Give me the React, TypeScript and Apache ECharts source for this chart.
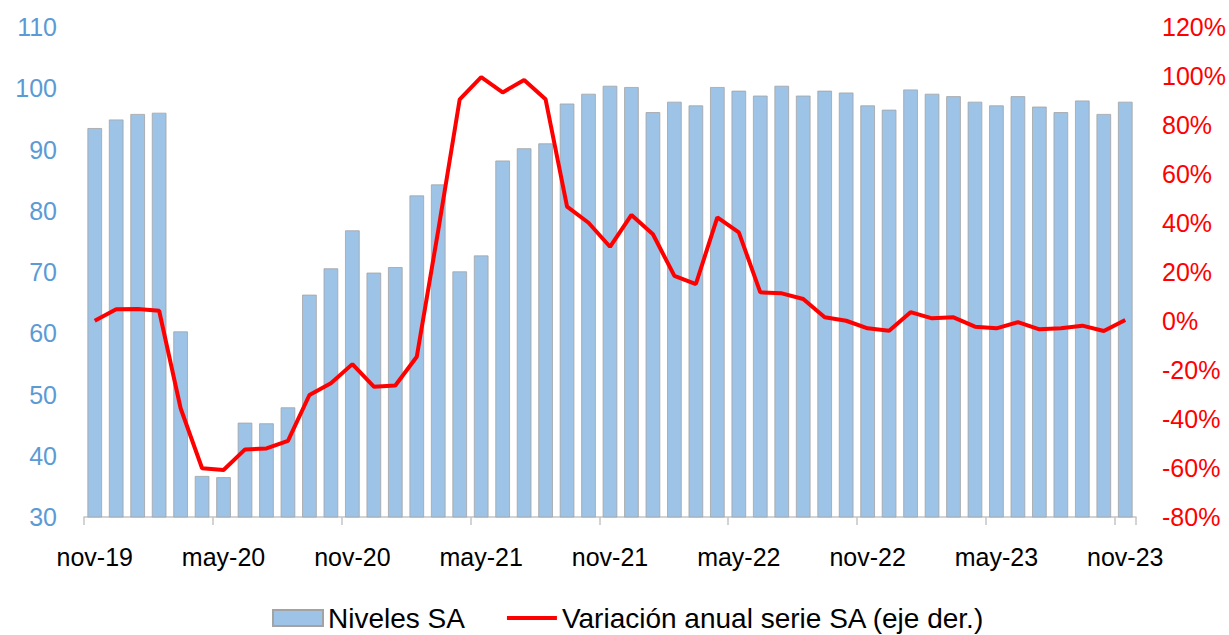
import React, { useEffect, useRef } from "react";
import * as echarts from "echarts";

const months = [
  "nov-19", "dic-19", "ene-20", "feb-20", "mar-20", "abr-20", "may-20", "jun-20", "jul-20", "ago-20", "sep-20", "oct-20",
  "nov-20", "dic-20", "ene-21", "feb-21", "mar-21", "abr-21", "may-21", "jun-21", "jul-21", "ago-21", "sep-21", "oct-21",
  "nov-21", "dic-21", "ene-22", "feb-22", "mar-22", "abr-22", "may-22", "jun-22", "jul-22", "ago-22", "sep-22", "oct-22",
  "nov-22", "dic-22", "ene-23", "feb-23", "mar-23", "abr-23", "may-23", "jun-23", "jul-23", "ago-23", "sep-23", "oct-23",
  "nov-23",
];

const nivelesSA = [
  93.5, 94.9, 95.8, 96.0, 60.3, 36.7, 36.5, 45.4, 45.3, 47.9,
  66.3, 70.6, 76.8, 69.9, 70.8, 82.5, 84.3, 70.1, 72.7, 88.2,
  90.2, 91.0, 97.5, 99.1, 100.4, 100.2, 96.1, 97.8, 97.2, 100.2,
  99.6, 98.8, 100.4, 98.8, 99.6, 99.3, 97.2, 96.5, 99.8, 99.1,
  98.7, 97.8, 97.2, 98.7, 97.0, 96.1, 98.0, 95.8, 97.8,
];

const variacionAnual = [
  0.1, 4.8, 4.9, 4.2, -35.6, -60.1, -60.8, -52.4, -52.0, -48.9,
  -30.2, -25.4, -17.6, -26.8, -26.3, -14.6, 37, 90.5, 99.5, 93.3,
  98.4, 90.5, 46.7, 40.1, 30.3, 43.3, 35.4, 18.4, 15.1, 42.3,
  36.2, 11.7, 11.3, 9.0, 1.5, 0.1, -3.0, -4.0, 3.6, 1.1,
  1.5, -2.3, -3.0, -0.5, -3.4, -3.0, -1.9, -4.1, 0.4,
];

const seriesNames = ["Niveles SA", "Variación anual serie SA (eje der.)"];

const FONT = "'Liberation Sans', Arial, sans-serif";

export default function App() {
  const ref = useRef<HTMLDivElement>(null);

  useEffect(() => {
    if (!ref.current) return;
    const chart = echarts.init(ref.current, undefined, { renderer: "svg" });
    chart.setOption({
      animation: false,
      backgroundColor: "#ffffff",
      textStyle: { fontFamily: FONT },
      grid: { left: 84, right: 93, top: 27, bottom: 118, containLabel: false },
      legend: {
        left: 267,
        top: 599,
        itemWidth: 50,
        itemHeight: 16,
        itemGap: 42,
        symbolKeepAspect: true,
        textStyle: { fontFamily: FONT, fontSize: 28, color: "#000000" },
        data: [
          { name: seriesNames[0], icon: "rect" },
          { name: seriesNames[1], icon: "path://M0,0 L50,0 L50,4 L0,4 Z" },
        ],
      },
      xAxis: {
        type: "category",
        data: months,
        boundaryGap: true,
        axisLine: { onZero: false, lineStyle: { color: "#C4C4C4", width: 1.5 } },
        axisTick: {
          show: true,
          interval: 5,
          length: 8,
          alignWithLabel: false,
          lineStyle: { color: "#C4C4C4", width: 1.5 },
        },
        axisLabel: {
          interval: 5,
          fontFamily: FONT,
          fontSize: 25,
          color: "#000000",
          margin: 27,
        },
        splitLine: { show: false },
      },
      yAxis: [
        {
          type: "value",
          min: 30,
          max: 110,
          interval: 10,
          position: "left",
          axisLine: { show: false },
          axisTick: { show: false },
          splitLine: { show: false },
          axisLabel: { fontFamily: FONT, fontSize: 25, color: "#5B9BD5", margin: 27 },
        },
        {
          type: "value",
          min: -80,
          max: 120,
          interval: 20,
          position: "right",
          axisLine: { show: false },
          axisTick: { show: false },
          splitLine: { show: false },
          axisLabel: {
            fontFamily: FONT,
            fontSize: 25,
            color: "#FF0000",
            margin: 26,
            formatter: "{value}%",
          },
        },
      ],
      series: [
        {
          name: seriesNames[0],
          type: "bar",
          yAxisIndex: 0,
          data: nivelesSA,
          barCategoryGap: "32%",
          itemStyle: { color: "#9DC3E6", borderColor: "#A3A3A3", borderWidth: 0.8 },
        },
        {
          name: seriesNames[1],
          type: "line",
          yAxisIndex: 1,
          data: variacionAnual,
          symbol: "none",
          showSymbol: false,
          lineStyle: { color: "#FF0000", width: 4 },
          itemStyle: { color: "#FF0000" },
        },
      ],
    });
    return () => chart.dispose();
  }, []);

  return (
    <div
      ref={ref}
      style={{ position: "fixed", left: 0, top: 0, width: 1229, height: 635, background: "#fff" }}
    />
  );
}
